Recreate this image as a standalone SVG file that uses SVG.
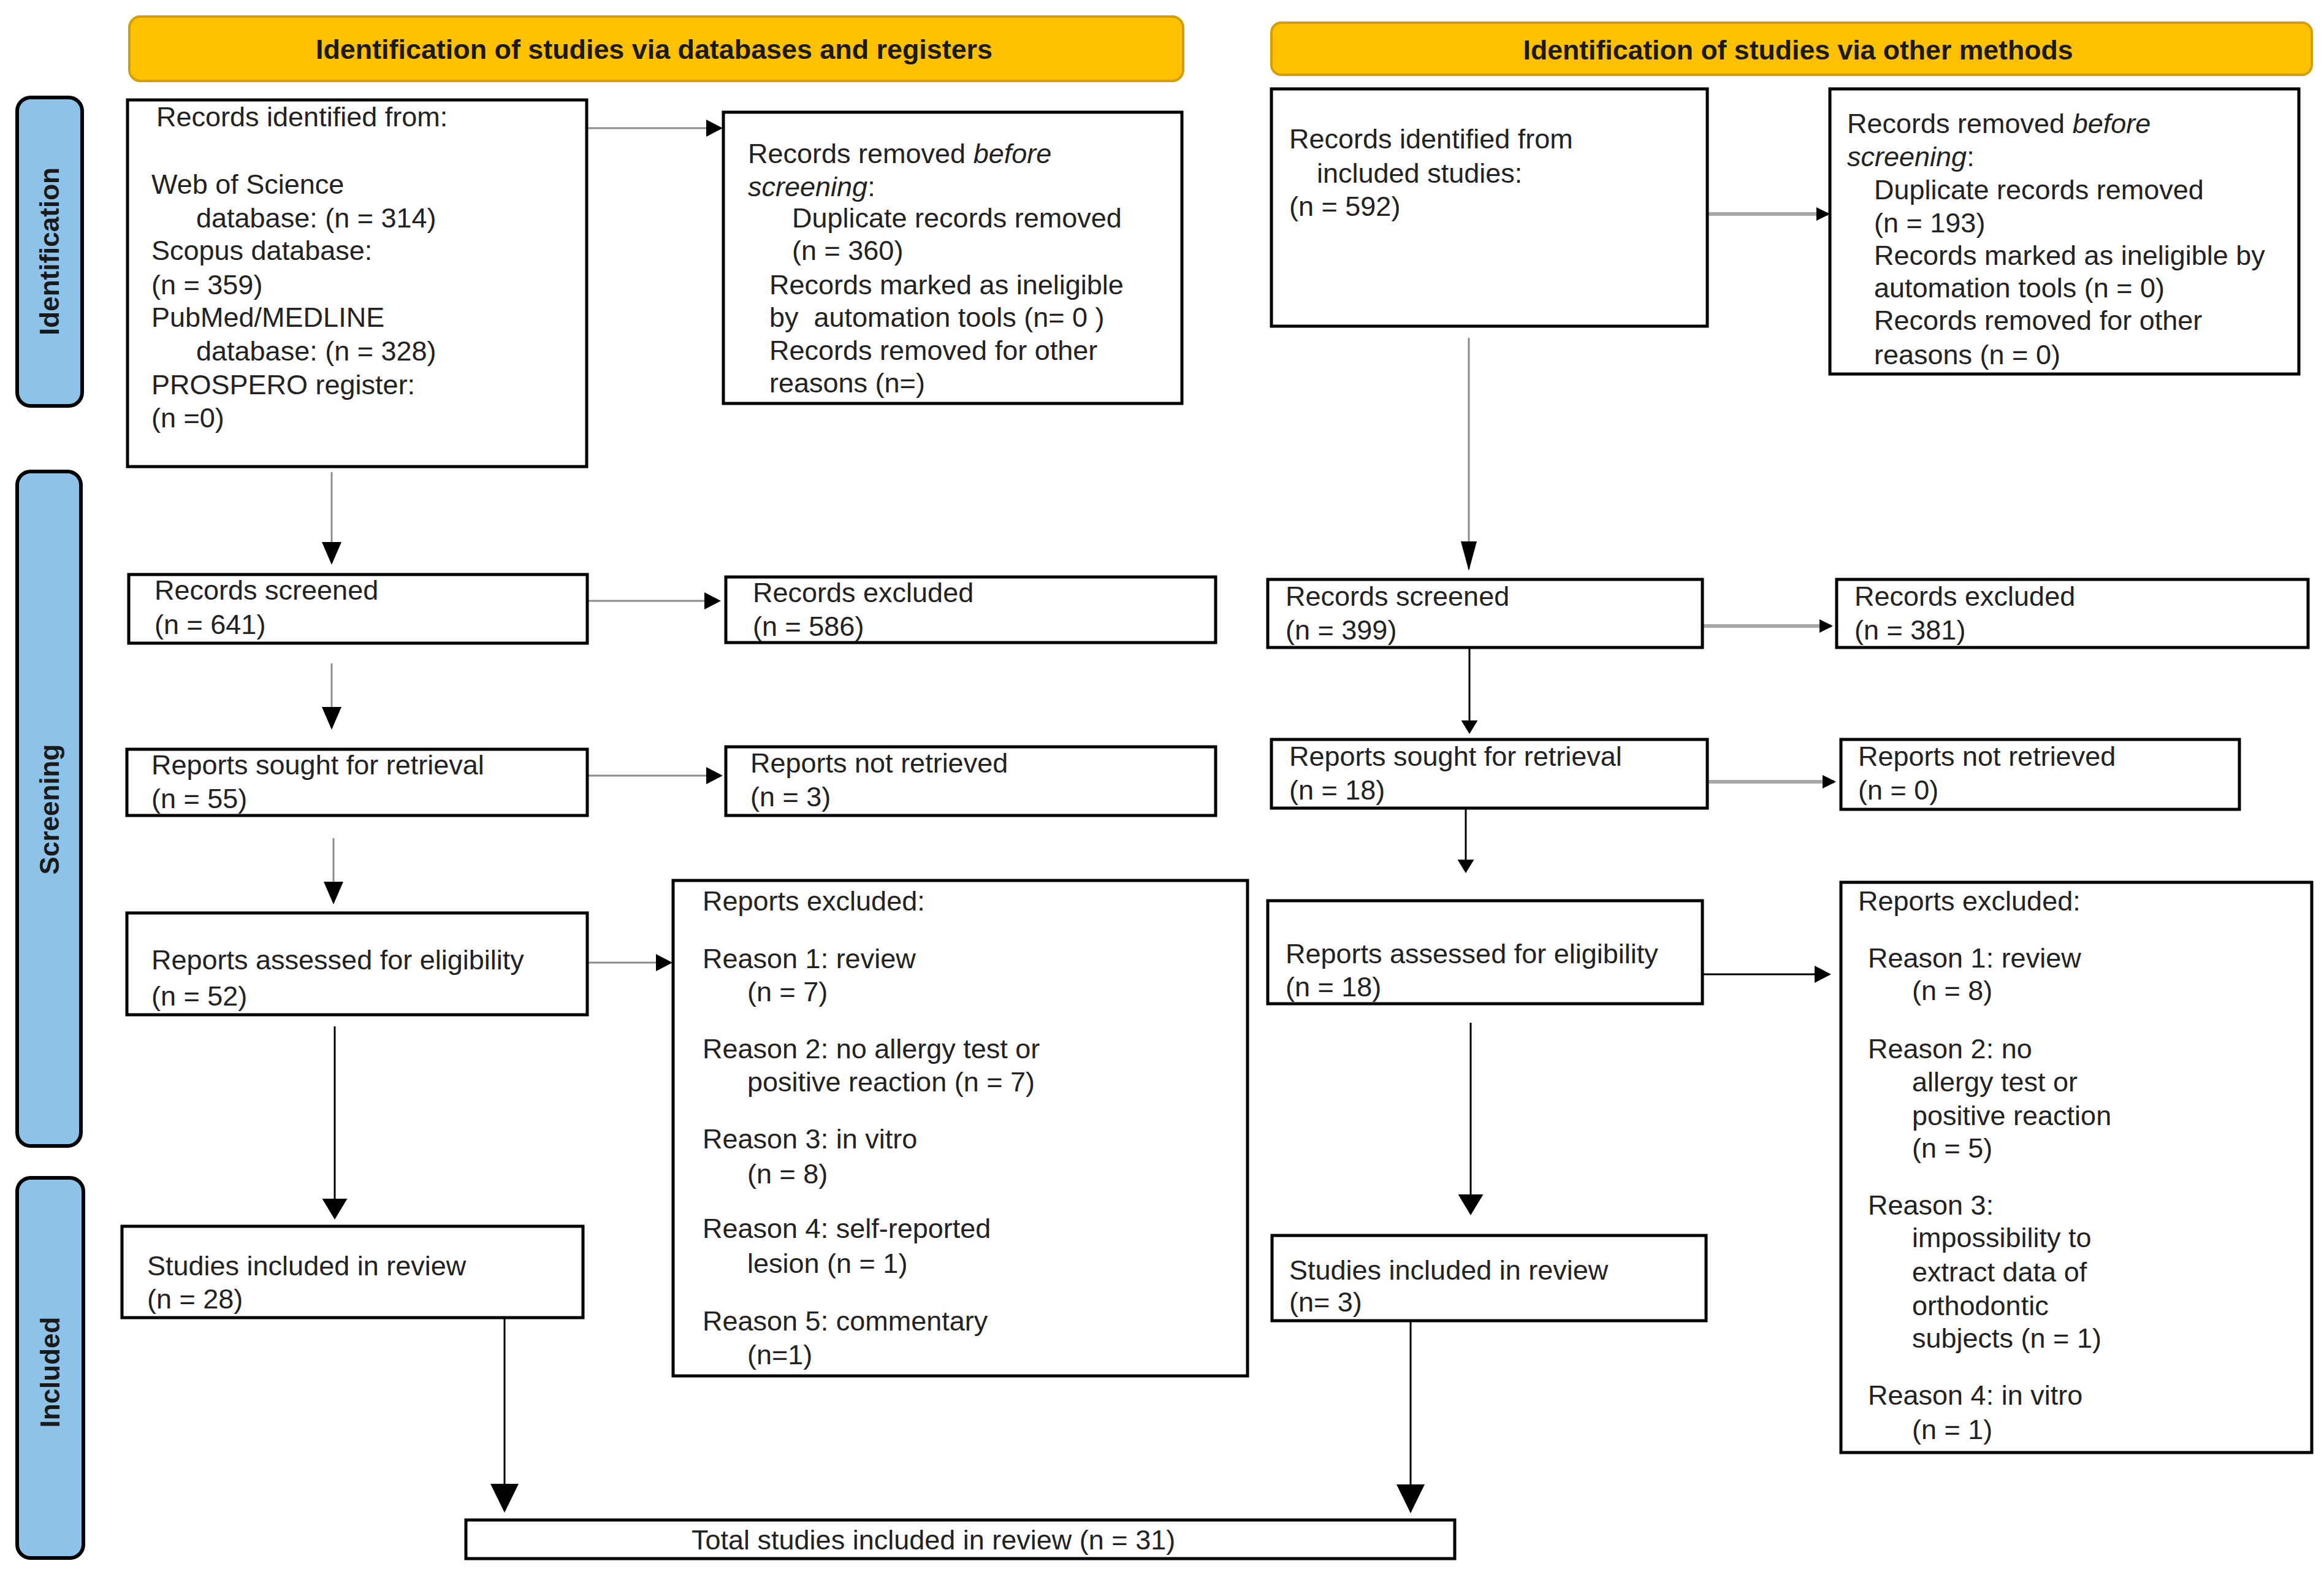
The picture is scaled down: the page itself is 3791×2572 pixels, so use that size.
<svg xmlns="http://www.w3.org/2000/svg" width="3791" height="2572" viewBox="0 0 3791 2572">
<style>
.bg{fill:#fff}
.box{fill:#fff;stroke:#000;stroke-width:5}
.hdr{fill:#FFC000;stroke:#D39E00;stroke-width:4}
.side{fill:#8EC3E9;stroke:#000;stroke-width:6}
.t{font-family:"Liberation Sans",Arial,sans-serif;font-size:45px;fill:#222}
.ht{font-family:"Liberation Sans",Arial,sans-serif;font-weight:bold;font-size:44px;fill:#1a1a1a;text-anchor:middle}
.st{font-family:"Liberation Sans",Arial,sans-serif;font-weight:bold;font-size:44px;fill:#1a1a1a;text-anchor:middle}
.g{stroke:#8c8c8c;stroke-width:3;fill:none}
.gt{stroke:#a8a8a8;stroke-width:6;fill:none}
.k{stroke:#000;stroke-width:3;fill:none}
.ah{fill:#000}
</style>
<defs>
<marker id="arrS" markerUnits="userSpaceOnUse" markerWidth="27" markerHeight="28" refX="24" refY="14" orient="auto"><path class="ah" d="M0,0 L27,14 L0,28 Z"/></marker>
<marker id="arrSm" markerUnits="userSpaceOnUse" markerWidth="22" markerHeight="22" refX="19" refY="11" orient="auto"><path class="ah" d="M0,0 L22,11 L0,22 Z"/></marker>
<marker id="arrM" markerUnits="userSpaceOnUse" markerWidth="37" markerHeight="32" refX="34" refY="16" orient="auto"><path class="ah" d="M0,0 L37,16 L0,32 Z"/></marker>
<marker id="arrN" markerUnits="userSpaceOnUse" markerWidth="48" markerHeight="26" refX="45" refY="13" orient="auto"><path class="ah" d="M0,0 L48,13 L0,26 Z"/></marker>
<marker id="arrT" markerUnits="userSpaceOnUse" markerWidth="22" markerHeight="27" refX="19" refY="13.5" orient="auto"><path class="ah" d="M0,0 L22,13.5 L0,27 Z"/></marker>
<marker id="arrV" markerUnits="userSpaceOnUse" markerWidth="34" markerHeight="41" refX="31" refY="20.5" orient="auto"><path class="ah" d="M0,0 L34,20.5 L0,41 Z"/></marker>
<marker id="arrB" markerUnits="userSpaceOnUse" markerWidth="47" markerHeight="46" refX="44" refY="23" orient="auto"><path class="ah" d="M0,0 L47,23 L0,46 Z"/></marker>
</defs>
<rect class="bg" x="0" y="0" width="3791" height="2572"/>

<g id="header-left"><rect class="hdr" x="211" y="27" width="1719" height="105" rx="18"/><text class="ht" x="1067" y="96" textLength="1104" lengthAdjust="spacingAndGlyphs">Identification of studies via databases and registers</text></g>
<g id="header-right"><rect class="hdr" x="2074" y="37" width="1697" height="85" rx="16"/><text class="ht" x="2933" y="97" textLength="897" lengthAdjust="spacingAndGlyphs">Identification of studies via other methods</text></g>

<g id="phase-identification"><rect class="side" x="28" y="159" width="106" height="503" rx="22"/><text class="st" transform="translate(96,410) rotate(-90)">Identification</text></g>
<g id="phase-screening"><rect class="side" x="28" y="769" width="104" height="1100" rx="22"/><text class="st" transform="translate(96,1320) rotate(-90)">Screening</text></g>
<g id="phase-included"><rect class="side" x="28" y="1921" width="108" height="620" rx="22"/><text class="st" transform="translate(97,2238) rotate(-90)">Included</text></g>

<g id="connectors">
<line class="g" x1="957" y1="209" x2="1176" y2="209" marker-end="url(#arrS)"/>
<line class="g" x1="541" y1="770" x2="541" y2="918" marker-end="url(#arrM)"/>
<line class="g" x1="958" y1="980" x2="1173" y2="980" marker-end="url(#arrS)"/>
<line class="g" x1="541" y1="1082" x2="541" y2="1187" marker-end="url(#arrM)"/>
<line class="g" x1="958" y1="1265" x2="1176" y2="1265" marker-end="url(#arrS)"/>
<line class="g" x1="544" y1="1367" x2="544" y2="1472" marker-end="url(#arrM)"/>
<line class="g" x1="958" y1="1570" x2="1094" y2="1570" marker-end="url(#arrS)"/>
<line class="k" x1="546" y1="1674" x2="546" y2="1986" marker-end="url(#arrV)"/>
<line class="k" x1="823" y1="2149" x2="823" y2="2464" marker-end="url(#arrB)"/>
<line class="gt" x1="2785" y1="349" x2="2982" y2="349" marker-end="url(#arrSm)"/>
<line class="g" x1="2396" y1="551" x2="2396" y2="928" marker-end="url(#arrN)"/>
<line class="gt" x1="2777" y1="1021" x2="2987" y2="1021" marker-end="url(#arrSm)"/>
<line class="k" x1="2397" y1="1056" x2="2397" y2="1194" marker-end="url(#arrT)"/>
<line class="gt" x1="2785" y1="1275" x2="2992" y2="1275" marker-end="url(#arrSm)"/>
<line class="k" x1="2391" y1="1318" x2="2391" y2="1421" marker-end="url(#arrT)"/>
<line class="k" x1="2777" y1="1589" x2="2984" y2="1589" marker-end="url(#arrS)"/>
<line class="k" x1="2399" y1="1668" x2="2399" y2="1979" marker-end="url(#arrV)"/>
<line class="k" x1="2301" y1="2154" x2="2301" y2="2465" marker-end="url(#arrB)"/>
</g>

<g id="records-identified-db"><rect class="box" x="208" y="163" width="749" height="598"/>
<text class="t" x="255" y="206">Records identified from:</text>
<text class="t" x="247" y="316">Web of Science</text>
<text class="t" x="320" y="371">database: (n = 314)</text>
<text class="t" x="247" y="424">Scopus database:</text>
<text class="t" x="247" y="480">(n = 359)</text>
<text class="t" x="247" y="533">PubMed/MEDLINE</text>
<text class="t" x="320" y="588">database: (n = 328)</text>
<text class="t" x="247" y="643">PROSPERO register:</text>
<text class="t" x="247" y="697">(n =0)</text>
</g>

<g id="records-removed-db"><rect class="box" x="1180" y="183" width="748" height="475"/>
<text class="t" x="1220" y="266">Records removed <tspan font-style="italic">before</tspan></text>
<text class="t" x="1220" y="320"><tspan font-style="italic">screening</tspan>:</text>
<text class="t" x="1292" y="371">Duplicate records removed</text>
<text class="t" x="1292" y="424">(n = 360)</text>
<text class="t" x="1255" y="480">Records marked as ineligible</text>
<text class="t" x="1255" y="533" xml:space="preserve">by  automation tools (n= 0 )</text>
<text class="t" x="1255" y="587">Records removed for other</text>
<text class="t" x="1255" y="640">reasons (n=)</text>
</g>

<g id="records-screened-db"><rect class="box" x="210" y="937" width="748" height="112"/>
<text class="t" x="252" y="978">Records screened</text>
<text class="t" x="252" y="1034">(n = 641)</text></g>

<g id="records-excluded-db"><rect class="box" x="1184" y="941" width="799" height="107"/>
<text class="t" x="1228" y="982">Records excluded</text>
<text class="t" x="1228" y="1037">(n = 586)</text></g>

<g id="reports-sought-db"><rect class="box" x="207" y="1222" width="751" height="108"/>
<text class="t" x="247" y="1263">Reports sought for retrieval</text>
<text class="t" x="247" y="1318">(n = 55)</text></g>

<g id="reports-not-retrieved-db"><rect class="box" x="1184" y="1218" width="799" height="112"/>
<text class="t" x="1224" y="1260">Reports not retrieved</text>
<text class="t" x="1224" y="1315">(n = 3)</text></g>

<g id="reports-assessed-db"><rect class="box" x="207" y="1489" width="751" height="166"/>
<text class="t" x="247" y="1581">Reports assessed for eligibility</text>
<text class="t" x="247" y="1640">(n = 52)</text></g>

<g id="reports-excluded-db"><rect class="box" x="1098" y="1436" width="937" height="808"/>
<text class="t" x="1146" y="1485">Reports excluded:</text>
<text class="t" x="1146" y="1579">Reason 1: review</text>
<text class="t" x="1219" y="1633">(n = 7)</text>
<text class="t" x="1146" y="1726">Reason 2: no allergy test or</text>
<text class="t" x="1219" y="1780">positive reaction (n = 7)</text>
<text class="t" x="1146" y="1873">Reason 3: in vitro</text>
<text class="t" x="1219" y="1930">(n = 8)</text>
<text class="t" x="1146" y="2019">Reason 4: self-reported</text>
<text class="t" x="1219" y="2076">lesion (n = 1)</text>
<text class="t" x="1146" y="2170">Reason 5: commentary</text>
<text class="t" x="1219" y="2225">(n=1)</text>
</g>

<g id="studies-included-db"><rect class="box" x="199" y="2000" width="752" height="149"/>
<text class="t" x="240" y="2080">Studies included in review</text>
<text class="t" x="240" y="2134">(n = 28)</text></g>

<g id="total-included"><rect class="box" x="760" y="2479" width="1613" height="63"/>
<text class="t" x="1128" y="2527">Total studies included in review (n = 31)</text></g>

<g id="records-identified-other"><rect class="box" x="2074" y="145" width="711" height="387"/>
<text class="t" x="2103" y="242">Records identified from</text>
<text class="t" x="2148" y="298">included studies:</text>
<text class="t" x="2103" y="352">(n = 592)</text></g>

<g id="records-removed-other"><rect class="box" x="2985" y="145" width="765" height="465"/>
<text class="t" x="3013" y="217">Records removed <tspan font-style="italic">before</tspan></text>
<text class="t" x="3013" y="271"><tspan font-style="italic">screening</tspan>:</text>
<text class="t" x="3057" y="325">Duplicate records removed</text>
<text class="t" x="3057" y="379">(n = 193)</text>
<text class="t" x="3057" y="432">Records marked as ineligible by</text>
<text class="t" x="3057" y="485">automation tools (n = 0)</text>
<text class="t" x="3057" y="538">Records removed for other</text>
<text class="t" x="3057" y="594">reasons (n = 0)</text>
</g>

<g id="records-screened-other"><rect class="box" x="2068" y="945" width="709" height="111"/>
<text class="t" x="2097" y="988">Records screened</text>
<text class="t" x="2097" y="1043">(n = 399)</text></g>

<g id="records-excluded-other"><rect class="box" x="2996" y="945" width="769" height="111"/>
<text class="t" x="3025" y="988">Records excluded</text>
<text class="t" x="3025" y="1043">(n = 381)</text></g>

<g id="reports-sought-other"><rect class="box" x="2074" y="1206" width="711" height="112"/>
<text class="t" x="2103" y="1249">Reports sought for retrieval</text>
<text class="t" x="2103" y="1304">(n = 18)</text></g>

<g id="reports-not-retrieved-other"><rect class="box" x="3003" y="1206" width="650" height="114"/>
<text class="t" x="3031" y="1249">Reports not retrieved</text>
<text class="t" x="3031" y="1304">(n = 0)</text></g>

<g id="reports-assessed-other"><rect class="box" x="2068" y="1469" width="709" height="168"/>
<text class="t" x="2097" y="1571">Reports assessed for eligibility</text>
<text class="t" x="2097" y="1625">(n = 18)</text></g>

<g id="reports-excluded-other"><rect class="box" x="3003" y="1439" width="768" height="930"/>
<text class="t" x="3031" y="1485">Reports excluded:</text>
<text class="t" x="3047" y="1578">Reason 1: review</text>
<text class="t" x="3119" y="1631">(n = 8)</text>
<text class="t" x="3047" y="1726">Reason 2: no</text>
<text class="t" x="3119" y="1780">allergy test or</text>
<text class="t" x="3119" y="1835">positive reaction</text>
<text class="t" x="3119" y="1888">(n = 5)</text>
<text class="t" x="3047" y="1981">Reason 3:</text>
<text class="t" x="3119" y="2034">impossibility to</text>
<text class="t" x="3119" y="2090">extract data of</text>
<text class="t" x="3119" y="2145">orthodontic</text>
<text class="t" x="3119" y="2198">subjects (n = 1)</text>
<text class="t" x="3047" y="2291">Reason 4: in vitro</text>
<text class="t" x="3119" y="2347">(n = 1)</text>
</g>

<g id="studies-included-other"><rect class="box" x="2075" y="2015" width="708" height="139"/>
<text class="t" x="2103" y="2087">Studies included in review</text>
<text class="t" x="2103" y="2139">(n= 3)</text></g>
</svg>
